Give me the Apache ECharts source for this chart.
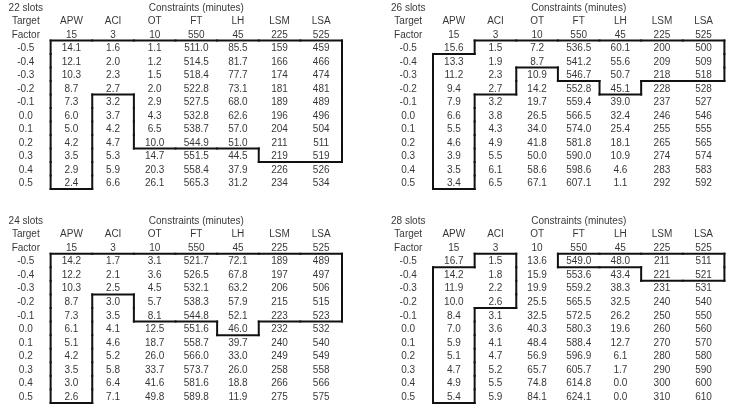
<!DOCTYPE html>
<html>
<head>
<meta charset="utf-8">
<script src="https://cdn.jsdelivr.net/npm/echarts@6/dist/echarts.min.js"></script>
<style>html,body{margin:0;padding:0;background:#fff}#c{width:735px;height:412px}</style>
</head>
<body>
<div id="c"></div>
<script>
// ---- data ----
const constraints = ['APW', 'ACI', 'OT', 'FT', 'LH', 'LSM', 'LSA'];
const targets = ['15', '3', '10', '550', '45', '225', '525'];
const decimals = [1, 1, 1, 1, 1, 0, 0];
const factors = ['-0.5', '-0.4', '-0.3', '-0.2', '-0.1', '0.0', '0.1', '0.2', '0.3', '0.4', '0.5'];
const headerTitle = 'Constraints (minutes)';
const rowHead1 = 'Target';
const rowHead2 = 'Factor';

const slots22 = [
  [14.1, 12.1, 10.3, 8.7, 7.3, 6.0, 5.0, 4.2, 3.5, 2.9, 2.4],
  [1.6, 2.0, 2.3, 2.7, 3.2, 3.7, 4.2, 4.7, 5.3, 5.9, 6.6],
  [1.1, 1.2, 1.5, 2.0, 2.9, 4.3, 6.5, 10.0, 14.7, 20.3, 26.1],
  [511.0, 514.5, 518.4, 522.8, 527.5, 532.8, 538.7, 544.9, 551.5, 558.4, 565.3],
  [85.5, 81.7, 77.7, 73.1, 68.0, 62.6, 57.0, 51.0, 44.5, 37.9, 31.2],
  [159, 166, 174, 181, 189, 196, 204, 211, 219, 226, 234],
  [459, 466, 474, 481, 489, 496, 504, 511, 519, 526, 534]
];
const slots26 = [
  [15.6, 13.3, 11.2, 9.4, 7.9, 6.6, 5.5, 4.6, 3.9, 3.5, 3.4],
  [1.5, 1.9, 2.3, 2.7, 3.2, 3.8, 4.3, 4.9, 5.5, 6.1, 6.5],
  [7.2, 8.7, 10.9, 14.2, 19.7, 26.5, 34.0, 41.8, 50.0, 58.6, 67.1],
  [536.5, 541.2, 546.7, 552.8, 559.4, 566.5, 574.0, 581.8, 590.0, 598.6, 607.1],
  [60.1, 55.6, 50.7, 45.1, 39.0, 32.4, 25.4, 18.1, 10.9, 4.6, 1.1],
  [200, 209, 218, 228, 237, 246, 255, 265, 274, 283, 292],
  [500, 509, 518, 528, 527, 546, 555, 565, 574, 583, 592]
];
const slots24 = [
  [14.2, 12.2, 10.3, 8.7, 7.3, 6.1, 5.1, 4.2, 3.5, 3.0, 2.6],
  [1.7, 2.1, 2.5, 3.0, 3.5, 4.1, 4.6, 5.2, 5.8, 6.4, 7.1],
  [3.1, 3.6, 4.5, 5.7, 8.1, 12.5, 18.7, 26.0, 33.7, 41.6, 49.8],
  [521.7, 526.5, 532.1, 538.3, 544.8, 551.6, 558.7, 566.0, 573.7, 581.6, 589.8],
  [72.1, 67.8, 63.2, 57.9, 52.1, 46.0, 39.7, 33.0, 26.0, 18.8, 11.9],
  [189, 197, 206, 215, 223, 232, 240, 249, 258, 266, 275],
  [489, 497, 506, 515, 523, 532, 540, 549, 558, 566, 575]
];
const slots28 = [
  [16.7, 14.2, 11.9, 10.0, 8.4, 7.0, 5.9, 5.1, 4.7, 4.9, 5.4],
  [1.5, 1.8, 2.2, 2.6, 3.1, 3.6, 4.1, 4.7, 5.2, 5.5, 5.9],
  [13.6, 15.9, 19.9, 25.5, 32.5, 40.3, 48.4, 56.9, 65.7, 74.8, 84.1],
  [549.0, 553.6, 559.2, 565.5, 572.5, 580.3, 588.4, 596.9, 605.7, 614.8, 624.1],
  [48.0, 43.4, 38.3, 32.5, 26.2, 19.6, 12.7, 6.1, 1.7, 0.0, 0.0],
  [211, 221, 231, 240, 250, 260, 270, 280, 290, 300, 310],
  [511, 521, 531, 540, 550, 560, 570, 580, 590, 600, 610]
];

// boxed (framed) row index ranges per constraint column; null = none
const boxed22 = [[0, 10], [0, 3], [0, 7], [0, 7], [0, 7], [0, 8], [0, 8]];
const boxed26 = [[1, 10], [0, 3], [0, 1], [0, 2], [0, 3], [0, 2], [0, 2]];
const boxed24 = [[0, 10], [0, 2], [0, 4], [0, 4], [0, 5], [0, 4], [0, 4]];
const boxed28 = [[1, 10], [0, 3], null, [0, 0], [0, 0], [0, 1], [0, 1]];

const panels = [
  { title: '22 slots', values: slots22, boxed: boxed22 },
  { title: '26 slots', values: slots26, boxed: boxed26 },
  { title: '24 slots', values: slots24, boxed: boxed24 },
  { title: '28 slots', values: slots28, boxed: boxed28 }
];

// ---- layout ----
const gridPos = [
  { left: 9, top: -1 },
  { left: 391.4, top: -1 },
  { left: 9, top: 213 },
  { left: 391.4, top: 213 }
];
const FONT = '"Liberation Sans", Arial, sans-serif';
const FS = 10;
const TXT = '#000';

const grids = [], xAxes = [], yAxes = [], series = [];
panels.forEach((p, k) => {
  grids.push({ left: gridPos[k].left, top: gridPos[k].top, width: 333, height: 190, containLabel: false });
  xAxes.push({ type: 'value', gridIndex: k, min: 0, max: 8, show: false });
  yAxes.push({ type: 'value', gridIndex: k, min: 0, max: 14, inverse: true, show: false });

  const labelCol = [[0.5, 0.5, p.title], [0.5, 1.5, rowHead1], [0.5, 2.5, rowHead2]];
  factors.forEach((f, i) => labelCol.push([0.5, i + 3.5, f]));

  const cells = [[4.5, 0.5, headerTitle]];
  constraints.forEach((c, j) => {
    cells.push([j + 1.5, 1.5, c]);
    cells.push([j + 1.5, 2.5, targets[j]]);
    p.values[j].forEach((v, i) => cells.push([j + 1.5, i + 3.5, v.toFixed(decimals[j])]));
  });

  const textSeries = (data, offset) => ({
    type: 'scatter', xAxisIndex: k, yAxisIndex: k, data: data,
    symbolSize: 1, itemStyle: { color: 'rgba(0,0,0,0)' }, silent: true,
    label: {
      show: true, position: 'inside', offset: offset,
      formatter: q => q.value[2],
      color: TXT, fontFamily: FONT, fontSize: FS
    }
  });
  series.push(textSeries(labelCol, [-4, 1]));
  series.push(textSeries(cells, [0, 1]));

  // frame segments from the boxed mask
  const inside = (j, i) => {
    if (j < 0 || j > 6 || i < 0 || i > 10) return false;
    const r = p.boxed[j];
    return !!r && i >= r[0] && i <= r[1];
  };
  const segs = [];
  for (let j = -1; j <= 6; j++)
    for (let i = 0; i <= 10; i++)
      if (inside(j, i) !== inside(j + 1, i)) segs.push([j + 2, i + 3, j + 2, i + 4]);
  for (let j = 0; j <= 6; j++)
    for (let i = -1; i <= 10; i++)
      if (inside(j, i) !== inside(j, i + 1)) segs.push([j + 1, i + 4, j + 2, i + 4]);

  series.push({
    type: 'custom', xAxisIndex: k, yAxisIndex: k, silent: true,
    data: segs,
    encode: { x: [0, 2], y: [1, 3] },
    renderItem: (params, api) => {
      const a = api.coord([api.value(0), api.value(1)]);
      const b = api.coord([api.value(2), api.value(3)]);
      return {
        type: 'line',
        shape: { x1: a[0], y1: a[1], x2: b[0], y2: b[1] },
        style: { stroke: '#111', lineWidth: 2, lineCap: 'square' }
      };
    }
  });
});

const chart = echarts.init(document.getElementById('c'), null, { renderer: 'canvas' });
chart.setOption({
  animation: false,
  backgroundColor: '#fff',
  grid: grids, xAxis: xAxes, yAxis: yAxes, series: series
});
</script>
</body>
</html>
